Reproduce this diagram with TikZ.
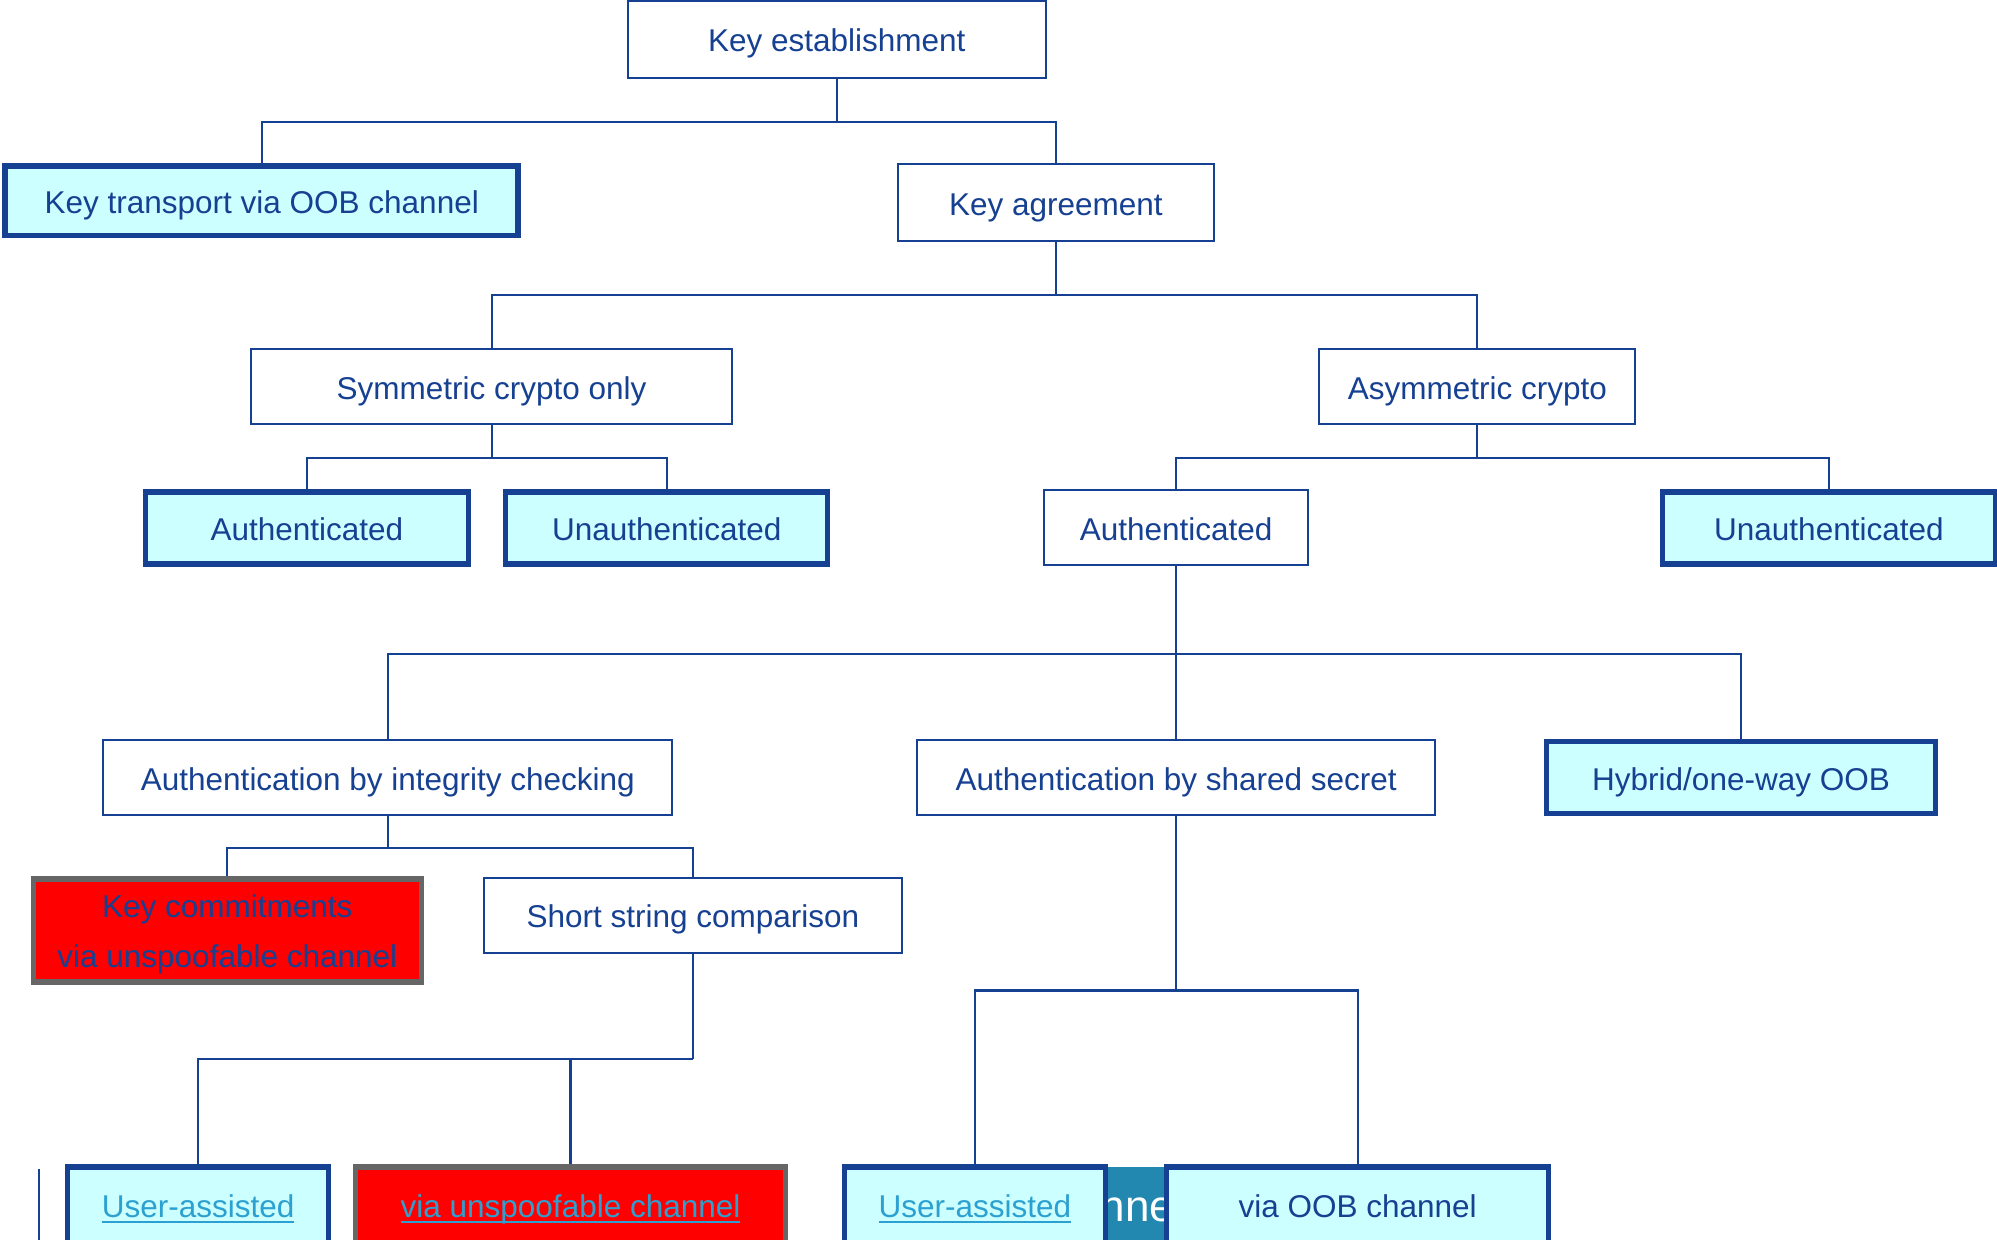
\documentclass[tikz,border=0pt]{standalone}
\usepackage{fontspec}
\setmainfont{Liberation Sans}
\definecolor{navy}{RGB}{22,64,145}
\definecolor{paleCyan}{RGB}{204,255,255}
\definecolor{linkBlue}{RGB}{44,160,208}
\definecolor{stripTeal}{RGB}{34,136,176}
\definecolor{frameGray}{RGB}{102,102,102}

% hyperlink-style text: coloured and underlined
\newcommand{\linkstyle}[1]{{\color{linkBlue}\setbox0=\hbox{#1}\leavevmode\rlap{\rule[-6pt]{\wd0}{2.4pt}}\box0}}

\tikzset{
  boxfont/.style={text=navy, align=center, font=\fontsize{31.5}{50}\selectfont},
  basebox/.style={rectangle, inner sep=0pt, boxfont, text height=32pt, text depth=7pt},
  plainbox/.style={basebox, draw=navy, line width=2pt, fill=white},
  leafbox/.style={basebox, draw=navy, line width=5.5pt, fill=paleCyan},
  blockedbox/.style={rectangle, inner sep=0pt, draw=frameGray, line width=5.5pt, fill=red},
  conn/.style={draw=navy, line width=2.2pt}
}

\begin{document}
\begin{tikzpicture}[x=1.2736pt, y=-1.2736pt]
\clip (0,0) rectangle (1568,973);
\fill[white] (0,0) rectangle (1568,973);

% strip partly hidden behind the bottom row
\fill[stripTeal] (860,916) rectangle (918,990);
\begin{scope}
  \clip (860,916) rectangle (918,990);
  \node[anchor=base east, inner sep=0pt, text=white, font=\fontsize{44}{50}\selectfont]
    (striptext) at (922,959) {nne};
\end{scope}
\draw[navy, line width=2pt] (31,918) -- (31,990);

% level 0 and 1
\node[plainbox, minimum width=417.7pt, minimum height=76.4pt] (ke) at (657,31) {Key establishment};
\node[leafbox, minimum width=513pt, minimum height=69.6pt] (kt) at (205.5,157.5) {Key transport via OOB channel};
\node[plainbox, minimum width=315.9pt, minimum height=76.4pt] (ka) at (829,159) {Key agreement};

% level 2
\node[plainbox, minimum width=481.4pt, minimum height=75.1pt] (sym) at (386,303.5) {Symmetric crypto only};
\node[plainbox, minimum width=315.9pt, minimum height=75.1pt] (asym) at (1160,303.5) {Asymmetric crypto};

% level 3
\node[leafbox, minimum width=323pt, minimum height=72.2pt] (authL) at (241,414.5) {Authenticated};
\node[leafbox, minimum width=322pt, minimum height=72.2pt] (unauthL) at (523.5,414.5) {Unauthenticated};
\node[plainbox, minimum width=263.6pt, minimum height=75.1pt] (authM) at (923.5,414.5) {Authenticated};
\node[leafbox, minimum width=333pt, minimum height=72.2pt] (unauthR) at (1436,414.5) {Unauthenticated};

% level 4
\node[plainbox, minimum width=569.3pt, minimum height=75.1pt] (integ) at (304.5,610.5) {Authentication by integrity checking};
\node[plainbox, minimum width=518.4pt, minimum height=75.1pt] (shared) at (923.5,610.5) {Authentication by shared secret};
\node[leafbox, minimum width=389pt, minimum height=72.2pt] (hybrid) at (1367,610.5) {Hybrid/one-way OOB};

% level 5
\node[blockedbox, minimum width=388pt, minimum height=103pt] (kc) at (178.5,730.5) {};
\node[boxfont, inner sep=0pt] (kclabel) at (178.5,734) {Key commitments\\via unspoofable channel};
\node[plainbox, minimum width=417.7pt, minimum height=75.1pt] (ssc) at (544,718.5) {Short string comparison};

% level 6
\node[leafbox, minimum width=261pt, minimum height=76pt] (uaL) at (155.5,946) {\linkstyle{User-assisted}};
\node[blockedbox, basebox, minimum width=430pt, minimum height=76pt] (vuc) at (448,946) {\linkstyle{via unspoofable channel}};
\node[leafbox, minimum width=261pt, minimum height=76pt] (uaR) at (765.5,946) {\linkstyle{User-assisted}};
\node[leafbox, minimum width=382pt, minimum height=76pt] (voob) at (1066,946) {via OOB channel};

% connectors
\draw[conn] (ke.south) -- ++(0,34) coordinate (j1);
\draw[conn] (kt.north) |- (j1) -| (ka.north);

\draw[conn] (ka.south) -- ++(0,42) coordinate (j2);
\draw[conn] (sym.north) |- (j2) -| (asym.north);

\draw[conn] (sym.south) -- ++(0,26) coordinate (j3);
\draw[conn] (authL.north) |- (j3) -| (unauthL.north);

\draw[conn] (asym.south) -- ++(0,26) coordinate (j4);
\draw[conn] (authM.north) |- (j4) -| (unauthR.north);

\draw[conn] (authM.south) -- ++(0,69) coordinate (j5);
\draw[conn] (integ.north) |- (j5) -| (hybrid.north);
\draw[conn] (j5) -- (shared.north);

\draw[conn] (integ.south) -- ++(0,25) coordinate (j6);
\draw[conn] (kc.north) |- (j6) -| (ssc.north);

\draw[conn] (ssc.south) -- ++(0,83) coordinate (j7);
\draw[conn] (uaL.north) |- (j7);
\draw[conn] (vuc.north) -- (vuc.north |- j7);

\draw[conn] (shared.south) -- ++(0,137) coordinate (j8);
\draw[conn] (uaR.north) |- (j8) -| (voob.north);
\end{tikzpicture}
\end{document}
